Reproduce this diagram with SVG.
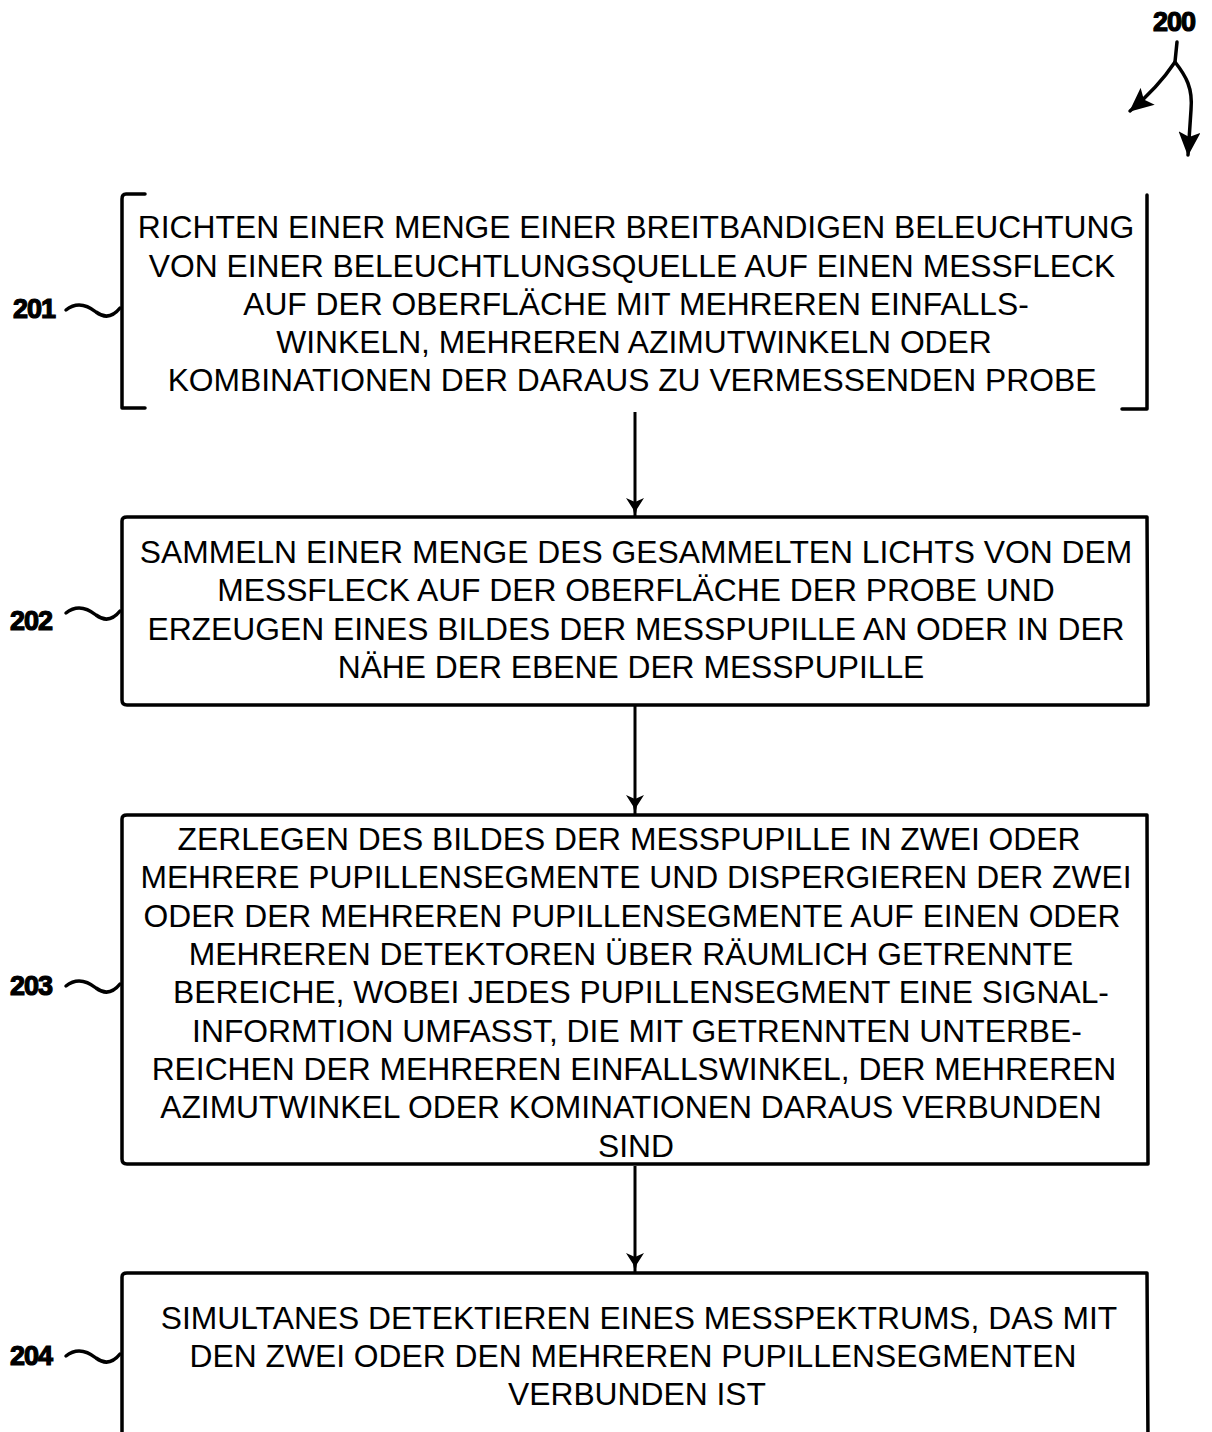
<svg xmlns="http://www.w3.org/2000/svg" width="1212" height="1432" viewBox="0 0 1212 1432">
<style>
.box{fill:none;stroke:#000;stroke-width:3.5;stroke-linejoin:round;stroke-linecap:round}
.t{font-family:"Liberation Sans",Arial,sans-serif;font-size:31.8px;fill:#000;text-anchor:middle}
.lbl{font-family:"Liberation Sans",Arial,sans-serif;font-size:27px;font-weight:bold;fill:#000;stroke:#000;stroke-width:1.2;letter-spacing:-1px}
.sq{fill:none;stroke:#000;stroke-width:3.5;stroke-linecap:round}
.conn{fill:none;stroke:#000;stroke-width:3}
</style>
<defs>
<marker id="ah" markerWidth="20" markerHeight="18" refX="19" refY="9" orient="auto" markerUnits="userSpaceOnUse" viewBox="0 0 20 18">
<path d="M0,0 L4,9 L0,18 L11,11 L20,9 L11,7 Z" fill="#000"/>
</marker>
<marker id="ah2" markerWidth="24" markerHeight="22" refX="23" refY="11" orient="auto" markerUnits="userSpaceOnUse" viewBox="0 0 24 22">
<path d="M0,0 L5,11 L0,22 L24,11 Z" fill="#000"/>
</marker>
</defs>

<g id="ref200">
<text class="lbl" x="1153" y="31">200</text>
<path class="sq" d="M1177,42 L1175,62 C1163,80 1148,96 1130,111" marker-end="url(#ah2)"/>
<path class="sq" d="M1175,62 C1186,76 1193,88 1191,110 L1188,155" marker-end="url(#ah2)"/>
</g>

<g id="connectors">
<line class="conn" x1="635" y1="412" x2="635" y2="517" marker-end="url(#ah)"/>
<line class="conn" x1="635" y1="706" x2="635" y2="814" marker-end="url(#ah)"/>
<line class="conn" x1="635" y1="1166" x2="635" y2="1272" marker-end="url(#ah)"/>
</g>

<g id="n201">
<path class="box" d="M145,194 L126,194 Q122,194 122,199 L122,408 L145,408"/>
<path class="box" d="M1147,195 L1147,409 L1122,409"/>
<text class="t" x="636" y="238">RICHTEN EINER MENGE EINER BREITBANDIGEN BELEUCHTUNG</text>
<text class="t" x="632" y="277">VON EINER BELEUCHTLUNGSQUELLE AUF EINEN MESSFLECK</text>
<text class="t" x="636" y="315">AUF DER OBERFLÄCHE MIT MEHREREN EINFALLS-</text>
<text class="t" x="634" y="353">WINKELN, MEHREREN AZIMUTWINKELN ODER</text>
<text class="t" x="632" y="391">KOMBINATIONEN DER DARAUS ZU VERMESSENDEN PROBE</text>
<text class="lbl" x="13" y="318">201</text>
<path class="sq" d="M66,310 C76,302 86,304 96,312 C104,318 112,318 120,308"/>
</g>

<g id="n202">
<path class="box" d="M122,521 Q122,517 127,517 L1147,517 L1148,705 L127,705 Q122,705 122,700 Z"/>
<text class="t" x="636" y="563">SAMMELN EINER MENGE DES GESAMMELTEN LICHTS VON DEM</text>
<text class="t" x="636" y="601">MESSFLECK AUF DER OBERFLÄCHE DER PROBE UND</text>
<text class="t" x="636" y="640">ERZEUGEN EINES BILDES DER MESSPUPILLE AN ODER IN DER</text>
<text class="t" x="631" y="678">NÄHE DER EBENE DER MESSPUPILLE</text>
<text class="lbl" x="10" y="630">202</text>
<path class="sq" d="M66,613 C76,605 86,607 96,615 C104,621 112,621 120,611"/>
</g>

<g id="n203">
<path class="box" d="M122,819 Q122,815 127,815 L1147,815 L1148,1164 L127,1164 Q122,1164 122,1159 Z"/>
<text class="t" x="629" y="850">ZERLEGEN DES BILDES DER MESSPUPILLE IN ZWEI ODER</text>
<text class="t" x="636" y="888">MEHRERE PUPILLENSEGMENTE UND DISPERGIEREN DER ZWEI</text>
<text class="t" x="632" y="927">ODER DER MEHREREN PUPILLENSEGMENTE AUF EINEN ODER</text>
<text class="t" x="631" y="965">MEHREREN DETEKTOREN ÜBER RÄUMLICH GETRENNTE</text>
<text class="t" x="641" y="1003">BEREICHE, WOBEI JEDES PUPILLENSEGMENT EINE SIGNAL-</text>
<text class="t" x="637" y="1042">INFORMTION UMFASST, DIE MIT GETRENNTEN UNTERBE-</text>
<text class="t" x="634" y="1080">REICHEN DER MEHREREN EINFALLSWINKEL, DER MEHREREN</text>
<text class="t" x="631" y="1118">AZIMUTWINKEL ODER KOMINATIONEN DARAUS VERBUNDEN</text>
<text class="t" x="636" y="1157">SIND</text>
<text class="lbl" x="10" y="995">203</text>
<path class="sq" d="M66,986 C76,978 86,980 96,988 C104,994 112,994 120,984"/>
</g>

<g id="n204">
<path class="box" d="M122,1440 L122,1277 Q122,1273 127,1273 L1147,1273 L1148,1440"/>
<text class="t" x="639" y="1329">SIMULTANES DETEKTIEREN EINES MESSPEKTRUMS, DAS MIT</text>
<text class="t" x="633" y="1367">DEN ZWEI ODER DEN MEHREREN PUPILLENSEGMENTEN</text>
<text class="t" x="637" y="1405">VERBUNDEN IST</text>
<text class="lbl" x="10" y="1365">204</text>
<path class="sq" d="M66,1356 C76,1348 86,1350 96,1358 C104,1364 112,1364 120,1354"/>
</g>
</svg>
